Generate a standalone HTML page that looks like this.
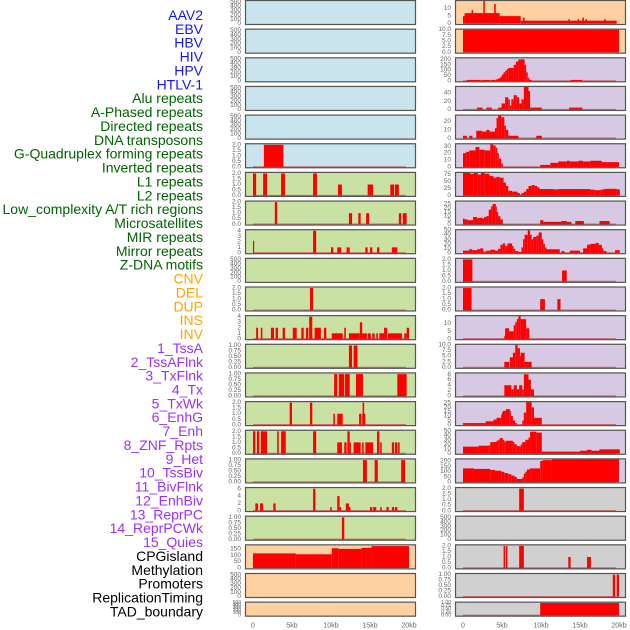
<!DOCTYPE html>
<html><head><meta charset="utf-8"><style>
html,body{margin:0;padding:0;background:#fff;}
svg{display:block;font-family:"Liberation Sans",sans-serif;}
</style></head><body>
<svg id="fig" width="630" height="630" viewBox="0 0 630 630" xmlns="http://www.w3.org/2000/svg"></svg>
<script>
// ---- category labels ----
const trackLabels = ["AAV2","EBV","HBV","HIV","HPV","HTLV-1","Alu repeats","A-Phased repeats","Directed repeats","DNA transposons","G-Quadruplex forming repeats","Inverted repeats","L1 repeats","L2 repeats","Low_complexity A/T rich regions","Microsatellites","MIR repeats","Mirror repeats","Z-DNA motifs","CNV","DEL","DUP","INS","INV","1_TssA","2_TssAFlnk","3_TxFlnk","4_Tx","5_TxWk","6_EnhG","7_Enh","8_ZNF_Rpts","9_Het","10_TssBiv","11_BivFlnk","12_EnhBiv","13_ReprPC","14_ReprPCWk","15_Quies","CPGisland","Methylation","Promoters","ReplicationTiming","TAD_boundary"];
const labelColors = ["#1414ff","#1414ff","#1414ff","#1414ff","#1414ff","#1414ff"].concat(Array(13).fill("#006400"),Array(5).fill("#ffa500"),Array(15).fill("#9b30ff"),Array(5).fill("#000000"));
const xTickKb = [0,5,10,15,20];
const xTickLabels = ["0","5kb","10kb","15kb","20kb"];

// ---- left column series: [startKb, endKb, value] ----
const L5 = [[1.4,3.9,2]];
const L6 = [[0,0.4,2],[1.3,1.8,2],[3.6,4.1,2],[7.7,8.2,2],[10.9,11.4,1],[14.7,15.4,1],[17.6,18.1,1],[18.2,18.7,1]];
const L7 = [[2.8,3.1,2],[12.3,12.7,1],[13.5,13.8,1],[14.5,14.9,1],[18.7,19.0,1],[19.2,19.7,1]];
const L8 = [[0,0.15,2.2],[7.7,8.1,4],[10.0,10.3,1],[10.8,11.3,1],[12.0,12.4,1],[14.4,14.7,1],[15.0,15.3,1],[15.9,16.2,1],[17.8,18.5,1]];
const L10 = [[7.3,7.7,2]];
const L11 = [[0.4,0.65,2],[1.0,1.2,2],[2.3,2.7,2],[2.9,3.2,2],[3.8,4.1,2],[5.1,5.6,2],[6.2,6.5,2],[6.8,7.1,2],[7.2,7.6,4],[7.9,8.7,2],[9.1,9.4,2],[10.1,11.5,1],[11.7,11.9,2],[12.3,13.7,1],[13.7,14.0,3],[14.0,14.6,1],[14.7,15.1,1],[15.3,15.6,1],[15.8,16.0,1],[16.2,16.8,1],[16.8,17.2,2],[17.3,19.1,1],[19.4,19.7,1],[19.7,20.0,2]];
const L12 = [[12.3,12.7,1],[12.9,13.4,1]];
const L13 = [[10.4,10.8,1],[11.0,11.7,1],[11.8,12.4,1],[13.2,14.1,1],[18.5,19.7,1]];
const L14 = [[4.7,5.0,2],[7.3,7.6,2],[10.3,10.5,1],[10.8,11.5,1],[13.6,13.9,1],[14.0,14.4,1],[14.05,14.25,2]];
const L15 = [[0,0.3,2],[0.5,0.8,2],[1.0,1.8,2],[3.1,3.3,2],[3.6,4.2,2],[7.7,8.1,2],[10.8,11.4,1],[11.7,12.0,1],[12.1,12.4,2],[12.4,12.55,1],[12.9,13.8,1],[14.0,14.2,1],[14.4,15.4,1],[15.9,16.2,2],[16.3,16.5,1],[17.8,18.1,1],[18.2,18.5,1],[18.6,18.8,1]];
const L16 = [[14.1,14.6,1],[15.6,16.0,1],[19.0,19.5,1]];
const L17 = [[0.3,0.65,2],[0.9,1.3,2],[2.6,2.9,2],[7.7,8.0,6],[9.9,10.1,1],[10.8,11.1,4],[11.1,11.3,1],[11.9,12.3,2],[12.3,12.5,1],[15.0,15.3,1],[15.4,15.8,1],[16.3,16.5,1],[17.1,17.4,1],[17.8,18.1,1],[18.2,18.5,1]];
const L18 = [[11.4,11.7,1]];
const L19 = [[0,5.5,115],[5.5,10.1,108],[10.1,11.0,155],[11.0,13.9,150],[13.9,15.2,158],[15.2,20.0,172]];

// ---- right column series ----
const R0 = [[0,0.2,5],[0.2,4.7,7],[1.1,1.3,9],[2.6,2.8,15],[4.0,4.2,13],[4.7,7.4,5],[7.7,7.9,4],[7.4,19.7,2],[13.5,13.7,3],[14.7,14.9,3],[15.3,15.5,4],[15.7,15.9,3],[18.1,18.3,3]];
const R1 = [[0,20,10]];
const R2 = [[0.5,2.3,10],[2.4,3.5,10],[3.6,4.2,10],[4.2,4.5,15],[4.5,4.8,25],[4.8,5.0,40],[5.0,5.2,60],[5.2,5.4,80],[5.4,5.6,95],[5.6,5.8,110],[5.8,6.5,120],[6.5,6.8,150],[6.8,7.1,180],[7.1,7.9,200],[7.9,8.1,150],[8.1,8.3,80],[8.3,8.5,30],[8.5,8.8,10],[13.8,15.3,10]];
const R3 = [[1.8,2.5,5],[3.0,3.7,5],[4.5,4.95,5],[4.95,5.4,15],[5.4,5.8,30],[5.8,6.0,25],[6.0,6.2,10],[6.2,6.5,25],[6.5,6.9,35],[6.9,7.2,30],[7.2,7.5,15],[7.5,7.8,25],[7.8,8.4,55],[8.4,8.6,45],[8.6,10.1,5],[13.6,15.3,5]];
const R4 = [[0,0.5,3],[0.8,1.2,3],[1.7,2.4,9],[2.4,3.0,8],[3.0,3.4,10],[3.4,4.1,8],[4.1,4.3,12],[4.3,4.5,24],[4.5,4.9,27],[4.9,5.3,25],[5.3,5.5,15],[5.5,5.8,10],[5.8,7.1,3],[9.4,10.1,3]];
const R5 = [[0,0.4,20],[0.4,0.8,22],[0.8,1.6,24],[1.6,2.1,29],[2.1,2.8,25],[2.8,3.5,24],[3.5,3.9,33],[3.9,4.2,31],[4.2,4.4,28],[4.4,4.6,20],[4.6,4.9,12],[4.9,5.1,5],[9.9,11.2,3],[11.2,12.2,6],[12.2,13.3,8],[13.3,13.7,9],[13.7,14.8,8],[14.8,15.4,9],[15.4,16.3,8],[16.3,17.8,9],[17.8,20.0,7]];
const R6 = [[0,0.9,80],[0.9,1.4,77],[1.4,1.9,80],[1.9,2.3,74],[2.3,2.8,80],[2.8,3.4,77],[3.4,3.9,69],[3.9,4.3,63],[4.3,4.7,66],[4.7,5.2,63],[5.2,5.5,46],[5.5,5.8,34],[5.8,6.3,17],[6.3,7.0,14],[7.0,7.3,9],[7.3,7.5,3],[7.5,7.8,9],[7.8,8.1,14],[8.1,8.4,23],[8.4,8.8,34],[8.8,9.2,37],[9.2,9.5,34],[9.5,9.8,29],[9.8,11.6,23],[11.6,12.2,22],[12.2,16.3,23],[16.3,16.9,21],[16.9,17.6,19],[17.6,18.0,21],[18.0,18.4,23],[18.4,19.7,24],[19.7,20.1,22]];
const R7 = [[0,0.2,7],[0.2,0.6,6],[0.6,1.3,5],[1.3,1.8,9],[1.8,1.9,7],[1.9,2.5,8],[2.5,2.7,7],[2.7,3.0,9],[3.0,3.3,10],[3.3,3.6,18],[3.6,3.8,22],[3.8,4.2,25],[4.2,4.3,22],[4.3,4.5,15],[4.5,4.8,10],[4.8,5.1,6],[9.9,10.3,5],[10.3,12.6,3],[12.6,13.3,4],[13.3,13.9,3],[14.4,15.5,4],[17.5,18.8,4]];
const R8 = [[0,0.8,5],[0.8,1.2,8],[1.2,1.8,6],[1.8,2.2,8],[2.2,2.6,10],[2.6,3.0,3],[3.0,3.5,5],[3.5,4.1,7],[4.1,4.5,5],[4.5,4.8,9],[4.8,5.1,18],[5.1,5.4,21],[5.4,5.7,15],[5.7,6.3,21],[6.3,6.5,15],[6.5,6.7,9],[6.7,7.1,4],[7.1,7.5,2],[7.5,7.7,12],[7.7,7.9,30],[7.9,8.3,40],[8.3,8.6,50],[8.6,8.8,40],[8.8,9.0,30],[9.0,9.4,35],[9.4,9.7,38],[9.7,10.1,45],[10.1,10.3,30],[10.3,10.5,20],[10.5,10.7,12],[10.7,12.4,8],[12.6,13.0,4],[13.7,15.0,5],[15.4,15.9,10],[15.9,16.3,18],[16.3,17.0,20],[17.0,17.4,22],[17.4,17.8,18],[17.8,18.0,10],[18.0,18.4,4],[19.5,20.1,6]];
const R9 = [[0,1.2,2],[12.7,13.3,1]];
const R10 = [[0,1.1,2],[9.9,10.5,1],[12.1,12.5,1]];
const R11 = [[5.3,5.4,2],[5.4,5.9,7],[5.9,6.5,5],[6.5,6.7,9],[6.7,6.9,11],[6.9,7.1,13],[7.1,7.4,15],[7.4,8.1,13],[8.1,8.5,7]];
const R12 = [[5.3,5.9,2.5],[6.0,6.4,4.5],[6.4,6.7,6.5],[6.7,7.0,10],[7.0,7.3,8.5],[7.3,7.4,5],[7.4,7.9,6.5],[7.9,8.8,2.5]];
const R13 = [[5.3,6.2,4],[6.2,6.5,2.5],[6.5,6.9,4],[6.9,7.2,2.5],[7.2,7.6,4],[7.6,7.8,2.5],[7.8,8.4,8],[8.4,8.7,6],[8.7,9.1,2.5]];
const R14 = [[0,2.9,2],[2.9,3.9,4],[3.9,4.3,6],[4.3,4.9,8],[4.9,5.0,12],[5.0,5.1,14],[5.1,5.5,16],[5.5,6.0,18],[6.0,6.1,16],[6.1,6.4,10],[6.4,6.7,5],[6.7,6.9,2],[7.6,7.8,5],[7.8,8.1,14],[8.1,8.8,26],[8.8,9.1,20],[9.1,10.1,8]];
const R15 = [[0,2.0,15],[2.0,3.3,17],[3.3,3.5,18],[3.5,4.3,25],[4.3,4.5,28],[4.5,4.7,30],[4.7,5.1,34],[5.1,5.3,30],[5.3,5.5,26],[5.5,6.4,28],[6.4,6.6,25],[6.6,6.9,20],[6.9,7.3,16],[7.3,7.4,15],[7.4,7.6,20],[7.6,8.0,25],[8.0,8.4,30],[8.4,8.6,35],[8.6,9.4,48],[9.4,10.1,46],[10.1,15.0,4],[15.0,15.9,6],[15.9,16.5,8],[16.5,17.5,6],[17.5,20.1,9]];
const R16 = [[0,1.4,130],[1.4,3.5,125],[3.5,4.1,115],[4.1,4.9,108],[4.9,5.3,98],[5.3,5.8,85],[5.8,6.2,75],[6.2,6.6,62],[6.6,6.9,50],[6.9,7.6,30],[7.6,7.8,45],[7.8,8.0,80],[8.0,8.2,100],[8.2,8.6,120],[8.6,9.9,130],[9.9,10.2,200],[10.2,11.4,208],[11.4,20.0,214]];
const R17 = [[7.2,7.8,2]];
const R19 = [[5.2,5.4,2],[5.5,5.7,2],[7.2,7.8,2],[13.5,13.8,1],[15.9,16.4,1]];
const R20 = [[19.2,19.5,1],[19.7,20.0,1]];
const R21 = [[9.9,20.0,1]];

// ---- tick label arrays ----
const ticksBlank = [0,100,200,300,400,500];
const ticks2 = [0,0.5,1.0,1.5,2.0];
const ticks1 = [0,0.25,0.5,0.75,1.0];
const ticks4 = [0,1,2,3,4];
const ticks6 = [0,2,4,6];
const ticksCpg = [0,50,100,150];

const BLUE="#c9e4ec", GREEN="#c9e1a2", ORANGE="#ffd1a0", PURPLE="#d7c9e3", GRAY="#d0d0d0";
const leftPanels = [
 {bg:BLUE,max:520,ticks:ticksBlank,dec:0,data:null},
 {bg:BLUE,max:520,ticks:ticksBlank,dec:0,data:null},
 {bg:BLUE,max:520,ticks:ticksBlank,dec:0,data:null},
 {bg:BLUE,max:520,ticks:ticksBlank,dec:0,data:null},
 {bg:BLUE,max:520,ticks:ticksBlank,dec:0,data:null},
 {bg:BLUE,max:2.05,ticks:ticks2,dec:1,data:L5},
 {bg:GREEN,max:2.05,ticks:ticks2,dec:1,data:L6},
 {bg:GREEN,max:2.05,ticks:ticks2,dec:1,data:L7},
 {bg:GREEN,max:4.1,ticks:ticks4,dec:0,data:L8},
 {bg:GREEN,max:520,ticks:ticksBlank,dec:0,data:null},
 {bg:GREEN,max:2.05,ticks:ticks2,dec:1,data:L10},
 {bg:GREEN,max:4.1,ticks:ticks4,dec:0,data:L11},
 {bg:GREEN,max:1.03,ticks:ticks1,dec:2,data:L12},
 {bg:GREEN,max:1.03,ticks:ticks1,dec:2,data:L13},
 {bg:GREEN,max:2.05,ticks:ticks2,dec:1,data:L14},
 {bg:GREEN,max:2.05,ticks:ticks2,dec:1,data:L15},
 {bg:GREEN,max:1.03,ticks:ticks1,dec:2,data:L16},
 {bg:GREEN,max:6.2,ticks:ticks6,dec:0,data:L17},
 {bg:GREEN,max:1.03,ticks:ticks1,dec:2,data:L18},
 {bg:ORANGE,max:178,ticks:ticksCpg,dec:0,data:L19,noBase:true},
 {bg:ORANGE,max:520,ticks:ticksBlank,dec:0,data:null},
 {bg:ORANGE,max:520,ticks:ticksBlank,dec:0,data:null}
];
const rightPanels = [
 {bg:ORANGE,max:15,ticks:[0,5,10],dec:0,data:R0,noBase:true},
 {bg:ORANGE,max:10,ticks:[0,2.5,5,7.5,10],dec:1,data:R1,noBase:true},
 {bg:PURPLE,max:210,ticks:[0,50,100,150,200],dec:0,data:R2},
 {bg:PURPLE,max:55,ticks:[0,20,40],dec:0,data:R3},
 {bg:PURPLE,max:27,ticks:[0,10,20],dec:0,data:R4},
 {bg:PURPLE,max:33,ticks:[0,10,20,30],dec:0,data:R5},
 {bg:PURPLE,max:80,ticks:[0,25,50,75],dec:0,data:R6},
 {bg:PURPLE,max:28,ticks:[0,5,10,15,20,25],dec:0,data:R7},
 {bg:PURPLE,max:50,ticks:[0,10,20,30,40,50],dec:0,data:R8},
 {bg:PURPLE,max:2.05,ticks:ticks2,dec:1,data:R9},
 {bg:PURPLE,max:2.05,ticks:ticks2,dec:1,data:R10},
 {bg:PURPLE,max:15,ticks:[0,5,10],dec:0,data:R11},
 {bg:PURPLE,max:10,ticks:[0,2.5,5,7.5,10],dec:1,data:R12},
 {bg:PURPLE,max:8.3,ticks:[0,2,4,6,8],dec:0,data:R13},
 {bg:PURPLE,max:26,ticks:[0,5,10,15,20,25],dec:0,data:R14},
 {bg:PURPLE,max:50,ticks:[0,10,20,30,40,50],dec:0,data:R15},
 {bg:PURPLE,max:215,ticks:[0,50,100,150,200],dec:0,data:R16},
 {bg:GRAY,max:2.05,ticks:ticks2,dec:1,data:R17},
 {bg:GRAY,max:520,ticks:ticksBlank,dec:0,data:null},
 {bg:GRAY,max:2.05,ticks:ticks2,dec:1,data:R19},
 {bg:GRAY,max:1.03,ticks:ticks1,dec:2,data:R20},
 {bg:GRAY,max:1.03,ticks:ticks1,dec:2,data:R21}
];

const NS="http://www.w3.org/2000/svg";
const svg=document.getElementById('fig');
function mk(tag,attrs,parent){const e=document.createElementNS(NS,tag);for(const k in attrs)e.setAttribute(k,attrs[k]);(parent||svg).appendChild(e);return e;}

// labels
trackLabels.forEach((t,i)=>{
  const e=mk('text',{x:203,y:15+i*13.87,'text-anchor':'end','dominant-baseline':'central','font-size':'14',fill:labelColors[i]});
  e.textContent=t;
  
  
});

const COLS={L:{fx:245,fw:171,x0:253},R:{fx:455,fw:171,x0:463}};
const PXKB=7.8;
function xScale(col,kb){return COLS[col].x0+kb*PXKB;}

function drawPanel(col,i,p){
  const top=i*28.65, H=(i===21)?15:25, bot=top+H;
  const c=COLS[col];
  const g=mk('g',{});
  
  
  const yS=v=>bot-1.3-(v/p.max)*(H-2.3);
  mk('rect',{x:c.fx,y:top,width:c.fw,height:H,fill:p.bg},g);
  // ticks
  p.ticks.forEach(v=>{
    const t=mk('text',{x:c.fx-4,y:yS(v),'text-anchor':'end','dominant-baseline':'central','font-size':(i===21?'5':'6.5'),fill:'#666'},g);
    t.textContent=v.toFixed(p.dec);
    
    
  });
  if(p.data){
    if(!p.noBase){
      mk('line',{x1:xScale(col,0),x2:xScale(col,19.6),y1:bot-1.3,y2:bot-1.3,stroke:'#c84a4a','stroke-width':1.5,'stroke-opacity':0.75},g);
    }
    p.data.forEach(d=>{
      const x1=xScale(col,d[0]), x2=xScale(col,d[1]);
      const r=mk('rect',{x:x1,y:yS(d[2]),width:Math.max(1,x2-x1),height:yS(0)-yS(d[2]),fill:'#ff0000'},g);
      
      
    });
  }
  mk('rect',{x:c.fx+0.5,y:top+0.5,width:c.fw-1,height:H-1,fill:'none',stroke:'#555','stroke-width':1.2},g);
}
leftPanels.forEach((p,i)=>drawPanel('L',i,p));
rightPanels.forEach((p,i)=>drawPanel('R',i,p));

// x axes
['L','R'].forEach(col=>{
  xTickKb.forEach((kb,j)=>{
    const t=mk('text',{x:xScale(col,kb),y:626,'text-anchor':'middle','dominant-baseline':'central','font-size':'7',fill:'#666'});
    t.textContent=xTickLabels[j];
    
    
  });
});
</script>
</body></html>
